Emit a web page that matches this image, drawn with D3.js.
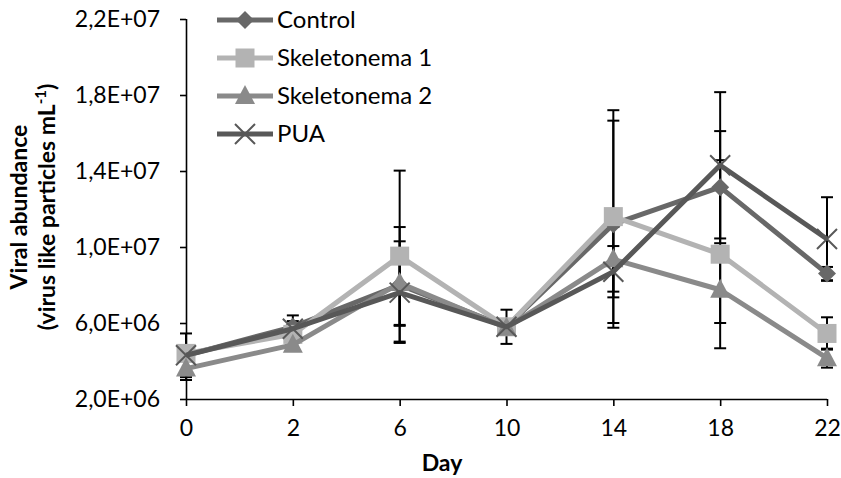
<!DOCTYPE html>
<html><head><meta charset="utf-8">
<script src="https://cdn.jsdelivr.net/npm/d3@7"></script>
<style>
html,body{margin:0;padding:0;background:#fff;}
text{font-family:Lato,"Noto Sans",sans-serif;fill:#000;}
</style></head>
<body>
<svg id="chart" width="841" height="478"></svg>
<script>
// ---- data ----
const days = ["0","2","6","10","14","18","22"];
const seriesNames = ["Control","Skeletonema 1","Skeletonema 2","PUA"];
const controlVals = [4.3e6, 5.8e6, 8.0e6, 5.8e6, 11.2e6, 13.15e6, 8.6e6];
const controlErr  = [1.15e6, 0.6e6, 3.05e6, 0.9e6, 5.45e6, 2.95e6, 0.35e6];
const skel1Vals   = [4.4e6, 5.4e6, 9.52e6, 5.8e6, 11.6e6, 9.62e6, 5.45e6];
const skel1Err    = [0.3e6, 0.3e6, 4.5e6, 0.3e6, 5.6e6, 4.95e6, 0.85e6];
const skel2Vals   = [3.6e6, 4.85e6, 8.1e6, 5.75e6, 9.35e6, 7.75e6, 4.15e6];
const skel2Err    = [0.6e6, 0.3e6, 2.2e6, 0.3e6, 1.7e6, 1.75e6, 0.5e6];
const puaVals     = [4.3e6, 5.7e6, 7.6e6, 5.8e6, 8.7e6, 14.3e6, 10.42e6];
const puaErr      = [0.3e6, 0.4e6, 1.75e6, 0.3e6, 1.35e6, 3.85e6, 2.2e6];
const yTicks      = [2e6, 6e6, 1e7, 1.4e7, 1.8e7, 2.2e7];
const yTickLabels = ["2,0E+06","6,0E+06","1,0E+07","1,4E+07","1,8E+07","2,2E+07"];

const colors  = ["#686868","#b3b3b3","#8a8a8a","#585858"];
const symbols = ["diamond","square","triangle","cross"];
const series = seriesNames.map((n,i)=>({
  name:n, color:colors[i], symbol:symbols[i],
  vals:[controlVals,skel1Vals,skel2Vals,puaVals][i],
  err:[controlErr,skel1Err,skel2Err,puaErr][i]
}));

const svg = d3.select("#chart");
const x = d3.scalePoint().domain(days).range([186, 827]);
const y = d3.scaleLinear().domain([2e6, 2.2e7]).range([399, 19]);

// axes
const yAxis = svg.append("g").attr("transform","translate(186,0)")
  .call(d3.axisLeft(y).tickValues(yTicks).tickSize(6).tickPadding(20)
    .tickFormat((d,i)=>yTickLabels[yTicks.indexOf(d)]));
const xAxis = svg.append("g").attr("transform","translate(0,399)")
  .call(d3.axisBottom(x).tickSize(7).tickPadding(14));
[yAxis,xAxis].forEach(g=>{
  g.select(".domain").attr("stroke","#000").attr("stroke-width",1.6);
  g.selectAll(".tick line").attr("stroke","#000").attr("stroke-width",1.6);
  g.selectAll("text").attr("font-size",23).attr("font-family","Lato").attr("fill","#000");
});
xAxis.select(".domain").attr("d","M186,0.5H827");
yAxis.select(".domain").attr("d","M0.5,19V399");

// error bars
const eb = svg.append("g");
series.forEach(s=>{
  s.vals.forEach((v,i)=>{
    const cx = x(days[i]), y1 = y(v+s.err[i]), y2 = y(v-s.err[i]);
    eb.append("line").attr("x1",cx).attr("x2",cx).attr("y1",y1).attr("y2",y2)
      .attr("stroke","#000").attr("stroke-width",2);
    [y1,y2].forEach(yy=>eb.append("line").attr("x1",cx-6).attr("x2",cx+6)
      .attr("y1",yy).attr("y2",yy).attr("stroke","#000").attr("stroke-width",2));
  });
});

function marker(g, sym, cx, cy, color){
  if(sym==="diamond"){
    g.append("path").attr("d",`M${cx},${cy-9}L${cx+9},${cy}L${cx},${cy+9}L${cx-9},${cy}Z`).attr("fill",color);
  } else if(sym==="square"){
    g.append("rect").attr("x",cx-9.5).attr("y",cy-9.5).attr("width",19).attr("height",19).attr("fill",color);
  } else if(sym==="triangle"){
    g.append("path").attr("d",`M${cx},${cy-11}L${cx+10},${cy+8}L${cx-10},${cy+8}Z`).attr("fill",color);
  } else {
    g.append("path").attr("d",`M${cx-10},${cy-10}L${cx+10},${cy+10}M${cx+10},${cy-10}L${cx-10},${cy+10}`)
      .attr("stroke",color).attr("stroke-width",2).attr("fill","none");
  }
}

const line = d3.line().x((d,i)=>x(days[i])).y(d=>y(d));
series.forEach(s=>{
  const g = svg.append("g");
  g.append("path").datum(s.vals).attr("d",line).attr("fill","none")
    .attr("stroke",s.color).attr("stroke-width",5).attr("stroke-linejoin","round");
  s.vals.forEach((v,i)=>marker(g,s.symbol,x(days[i]),y(v),s.color));
});

// legend
const leg = svg.append("g");
series.forEach((s,i)=>{
  const ly = 20 + i*38;
  leg.append("line").attr("x1",217).attr("x2",273).attr("y1",ly).attr("y2",ly)
    .attr("stroke",s.color).attr("stroke-width",5);
  marker(leg,s.symbol,245,ly,s.color);
  leg.append("text").attr("x",277).attr("y",ly).attr("dy","0.35em")
    .attr("font-size",24).text(s.name);
});

// axis titles
svg.append("text").attr("x",442).attr("y",471).attr("text-anchor","middle")
  .attr("font-size",23).attr("font-weight","bold").text("Day");
const yt = svg.append("text").attr("transform","translate(0,207) rotate(-90)")
  .attr("text-anchor","middle").attr("font-size",23).attr("font-weight","bold");
yt.append("tspan").attr("x",0).attr("y",27).text("Viral abundance");
const l2 = yt.append("tspan").attr("x",0).attr("y",55);
l2.text("(virus like particles mL");
yt.append("tspan").attr("dy",-9).attr("font-size",15).text("-1");
yt.append("tspan").attr("dy",9).text(")");
</script>
</body></html>
